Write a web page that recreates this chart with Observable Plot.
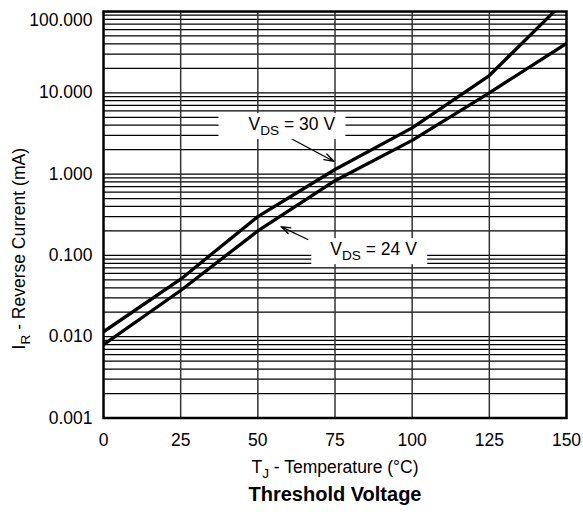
<!DOCTYPE html>
<html><head><meta charset="utf-8">
<script src="https://cdn.jsdelivr.net/npm/d3@7"></script>
<script src="https://cdn.jsdelivr.net/npm/@observablehq/plot@0.6"></script>
<style>
body{margin:0;background:#fff}
svg{font-family:"Liberation Sans",Arial,Helvetica,sans-serif}
</style>
</head><body><div id="chart"></div>
<script>
// ---- data ----
const temps = [0, 25, 50, 75, 100, 125, 150];
const iR30 = [0.0115, 0.051, 0.30, 1.14, 3.7, 16.3, 141];
const iR24 = [0.0080, 0.037, 0.20, 0.83, 2.6, 10.0, 40.5];
const seriesNames = ["V{DS} = 30 V", "V{DS} = 24 V"];
const xTicks = [0, 25, 50, 75, 100, 125, 150];
const yTicks = [0.001, 0.01, 0.1, 1, 10, 100];
const minorSteps = [2, 3, 4, 5, 6, 7, 8, 9];
// annotation anchors (data units)
const annotT = [61.0, 87.5];
const annotI = [4.07, 0.118];
const arrowT1 = [60.1, 66.2];
const arrowI1 = [2.82, 0.157];
const arrowT2 = [74.7, 57.5];
const arrowI2 = [1.43, 0.226];
const xLabel = "T{J} - Temperature (°C)";
const yLabel = "I{R} - Reverse Current (mA)";
const title = "Threshold Voltage";

// ---- build tables ----
const rows = [];
temps.forEach((t, k) => {
  rows.push({s: seriesNames[0], t, i: iR30[k]});
  rows.push({s: seriesNames[1], t, i: iR24[k]});
});
const yGrid = [];
yTicks.forEach(d => {
  yGrid.push(d);
  if (d < 100) minorSteps.forEach(m => yGrid.push(d * m));
});
const annots = seriesNames.map((s, k) => ({s, t: annotT[k], i: annotI[k]}));
const arrows = seriesNames.map((s, k) => ({t1: arrowT1[k], i1: arrowI1[k], t2: arrowT2[k], i2: arrowI2[k]}));
const fmt = d3.format(".3f");

const chart = Plot.plot({
  width: 583,
  height: 515,
  marginLeft: 103,
  marginRight: 17,
  marginTop: 11,
  marginBottom: 97.5,
  style: {fontFamily: '"Liberation Sans", Arial, sans-serif', fontSize: "17.5px", background: "white", color: "#000"},
  x: {domain: [0, 150]},
  y: {type: "log", domain: [0.001, 100]},
  marks: [
    Plot.ruleY(yGrid, {stroke: "#000", strokeWidth: 1.25}),
    Plot.ruleX(xTicks.slice(1, -1), {stroke: "#333", strokeWidth: 1.5}),
    Plot.line(rows, {x: "t", y: "i", z: "s", stroke: "#000", strokeWidth: 3.3, clip: true}),
    Plot.arrow(arrows, {x1: "t1", y1: "i1", x2: "t2", y2: "i2", stroke: "#000", strokeWidth: 1.3, headLength: 12, headAngle: 36, ariaLabel: "annot-arrow"}),
    Plot.text(annots, {x: "t", y: "i", text: "s", fill: "#000"}),
    Plot.frame({stroke: "#000", strokeWidth: 2.5}),
    Plot.axisX({ticks: xTicks, tickSize: 0, tickPadding: 16, label: null, tickFormat: d => String(d)}),
    Plot.axisY({ticks: yTicks.slice(0, -1), tickSize: 0, tickPadding: 11, tickFormat: fmt, label: null}),
    Plot.text(yTicks.slice(-1), {y: d => d, frameAnchor: "left", dx: -11, dy: 9, textAnchor: "end", text: d => fmt(d)}),
    Plot.text([xLabel], {frameAnchor: "bottom", dy: 54.5, text: d => d}),
    Plot.text([title], {frameAnchor: "bottom", dy: 82.5, fontWeight: "bold", fontSize: 20, text: d => d}),
    Plot.text([yLabel], {frameAnchor: "left", textAnchor: "middle", dx: -84, dy: 34, rotate: -90, text: d => d})
  ]
});
document.getElementById("chart").append(chart);

const svgNS = "http://www.w3.org/2000/svg";

// ---- filled arrow heads ----
chart.querySelectorAll('g[aria-label="annot-arrow"] path').forEach(p => {
  const nums = (p.getAttribute("d").match(/-?\d*\.?\d+(?:e-?\d+)?/g) || []).map(Number);
  if (nums.length < 6) return;
  const h = nums.slice(-6);
  const poly = document.createElementNS(svgNS, "path");
  poly.setAttribute("d", `M${h[0]},${h[1]}L${h[2]},${h[3]}L${h[4]},${h[5]}Z`);
  poly.setAttribute("fill", "#000");
  poly.setAttribute("stroke", "#000");
  poly.setAttribute("stroke-width", "1");
  const tr = p.getAttribute("transform");
  if (tr) poly.setAttribute("transform", tr);
  p.parentNode.appendChild(poly);
});

// ---- subscripts ----
const annotEls = [];
chart.querySelectorAll("text").forEach(el => {
  const s = el.textContent;
  if (!s.includes("{")) return;
  if (seriesNames.includes(s)) annotEls.push([el, seriesNames.indexOf(s)]);
  el.textContent = "";
  const parts = s.split(/(\{[^}]*\})/).filter(p => p.length);
  let shifted = false;
  parts.forEach(p => {
    const ts = document.createElementNS(svgNS, "tspan");
    if (p.startsWith("{")) {
      ts.textContent = p.slice(1, -1);
      ts.setAttribute("dy", "5");
      ts.setAttribute("font-size", "78%");
      shifted = true;
    } else {
      ts.textContent = p;
      if (shifted) { ts.setAttribute("dy", "-5"); shifted = false; }
    }
    el.appendChild(ts);
  });
});

// ---- white boxes behind annotation labels ----
const padL = [30, 19], padR = 10, padV = 1;
annotEls.forEach(([el, k]) => {
  const b = el.getBBox();
  const r = document.createElementNS(svgNS, "rect");
  r.setAttribute("x", b.x - padL[k]);
  r.setAttribute("y", b.y - padV);
  r.setAttribute("width", b.width + padL[k] + padR);
  r.setAttribute("height", b.height + 2 * padV);
  r.setAttribute("fill", "white");
  const tr = el.getAttribute("transform");
  if (tr) r.setAttribute("transform", tr);
  el.parentNode.insertBefore(r, el);
});
</script>
</body></html>
